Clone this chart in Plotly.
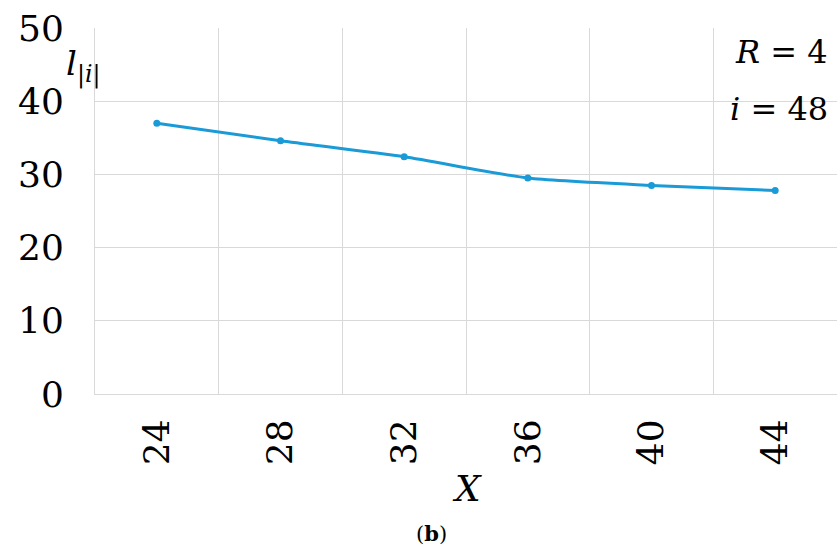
import plotly.graph_objects as go

x_values = [24, 28, 32, 36, 40, 44]
x_labels = ["24", "28", "32", "36", "40", "44"]
l_values = [37.0, 34.6, 32.4, 29.5, 28.5, 27.8]
y_ticks = [0, 10, 20, 30, 40, 50]
cell_edges = [22, 26, 30, 34, 38, 42, 46]

serif = "DejaVu Serif"
grid = "#d9d9d9"
W, H = 837, 552
ML, MR, MT, MB = 95, 0, 28, 158
PW, PH = W - ML - MR, H - MT - MB


def px_to_paper(px, py):
    return (px - ML) / PW, (H - MB - py) / PH


fig = go.Figure()
fig.add_trace(go.Scatter(
    x=x_values, y=l_values, mode="lines+markers",
    line=dict(color="#1a9ad6", width=3, shape="spline", smoothing=0.6),
    marker=dict(color="#1a9ad6", size=7),
    showlegend=False,
))

fig.update_layout(
    width=W, height=H,
    margin=dict(l=ML, r=MR, t=MT, b=MB),
    paper_bgcolor="white", plot_bgcolor="white",
    font=dict(family=serif, color="black"),
    xaxis=dict(
        range=[22, 46], tickvals=x_values, ticktext=x_labels,
        tickangle=-90, showgrid=False, zeroline=False,
        ticks="outside", ticklen=10, tickcolor="rgba(0,0,0,0)",
        tickfont=dict(family=serif, size=36, color="black"),
        showline=True, linecolor=grid, linewidth=1,
        minor=dict(tickvals=cell_edges, showgrid=True, gridcolor=grid, gridwidth=1, ticks=""),
    ),
    yaxis=dict(
        range=[0, 50], tickvals=y_ticks, ticktext=[str(v) for v in y_ticks],
        showgrid=True, gridcolor=grid, gridwidth=1, zeroline=False,
        ticks="outside", ticklen=23, tickcolor="rgba(0,0,0,0)",
        tickfont=dict(family=serif, size=36, color="black"),
        showline=True, linecolor=grid, linewidth=1,
    ),
)

annots = [
    ("<i>X</i>", 467, 488, 36, "center"),
    ("(<b>b</b>)", 431, 533, 21, "center"),
    ("<i>l</i><sub>|<i>i</i>|</sub>", 64, 66, 34, "left"),
    ("<i>R</i> = 4", 830, 52, 32, "right"),
    ("<i>i</i> = 48", 830, 109, 32, "right"),
]
for text, px, py, size, xa in annots:
    ax, ay = px_to_paper(px, py)
    fig.add_annotation(text=text, xref="paper", yref="paper", x=ax, y=ay,
                       showarrow=False, font=dict(family=serif, size=size, color="black"),
                       xanchor=xa, yanchor="middle")

fig.write_html("out.html", config={"displayModeBar": False},
               post_script="document.body.style.margin='0';document.body.style.overflow='hidden';")
